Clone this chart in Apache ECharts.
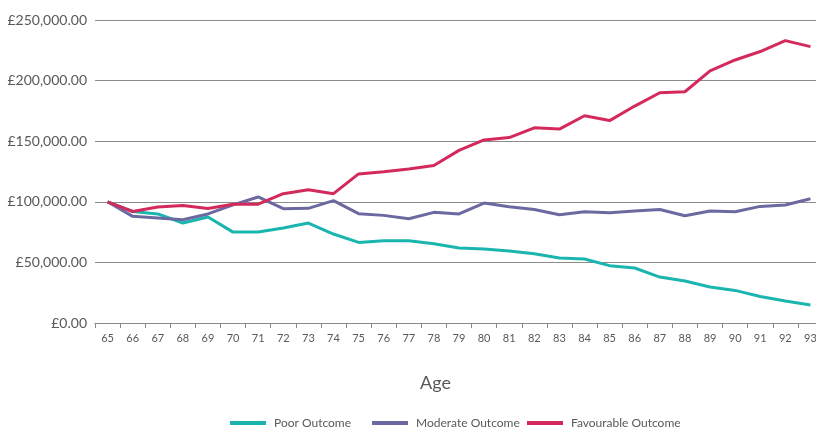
<!DOCTYPE html>
<html><head><meta charset="utf-8">
<script src="https://cdn.jsdelivr.net/npm/echarts@6/dist/echarts.min.js"></script>
<style>html,body{margin:0;padding:0;background:#fff;overflow:hidden}#c{width:823px;height:430px}</style>
</head><body><div id="c"></div>
<script>
var ages = ['65','66','67','68','69','70','71','72','73','74','75','76','77','78','79','80','81','82','83','84','85','86','87','88','89','90','91','92','93'];
var poor = [100000,92000,90000,82500,87500,75000,75000,78400,82500,73400,66500,67900,67900,65400,61900,61000,59400,57200,53600,52800,47300,45400,37900,34600,29700,26900,21900,18100,14800];
var moderate = [100000,88000,86600,85200,90000,97500,104000,94300,94600,101000,90200,88800,86000,91300,90000,99000,96000,93700,89300,91800,91000,92400,93700,88500,92400,91800,96200,97300,102500];
var favourable = [100000,92000,95700,97000,94500,98000,98000,106700,110000,106700,123000,124800,127000,130000,142400,151000,153000,161000,160000,171000,167000,179000,190000,190800,208000,217000,224000,233000,228000];
var seriesNames = ['Poor Outcome','Moderate Outcome','Favourable Outcome'];
var yTicks = [0, 50000, 100000, 150000, 200000, 250000];

var chart = echarts.init(document.getElementById('c'), null, {renderer:'canvas'});
function fmt(v){ return '£' + v.toLocaleString('en-GB',{minimumFractionDigits:2, maximumFractionDigits:2}); }
var legendLefts = [225, 367, 522];
var legends = seriesNames.map(function(n, i){
  return {
    top:412, left:legendLefts[i], itemWidth:36, itemHeight:4,
    textStyle:{fontFamily:'Lato', fontSize:12, color:'#595959', padding:[0,0,0,3]},
    icon:'rect', data:[n]
  };
});
chart.setOption({
  animation:false,
  textStyle:{fontFamily:'Lato'},
  grid:{left:95, top:20, right:0, height:303, containLabel:false},
  graphic:[{type:'text', left:420, top:374, style:{text:'Age', font:'18px Lato', fill:'#595959'}}],
  legend:legends,
  xAxis:{
    type:'category', data:ages, boundaryGap:true,
    axisLine:{lineStyle:{color:'#888', width:1}},
    axisTick:{show:true, length:5, lineStyle:{color:'#888'}},
    axisLabel:{fontSize:11, color:'#595959', margin:10, interval:0, fontFamily:'Lato'}
  },
  yAxis:{
    type:'value', min:yTicks[0], max:yTicks[yTicks.length-1], interval:50000,
    axisLine:{show:false}, axisTick:{show:false},
    axisLabel:{formatter:fmt, fontSize:14, color:'#595959', margin:8, fontFamily:'Lato'},
    splitLine:{lineStyle:{color:'#8c8c8c', width:1}}
  },
  series:[
    {name:seriesNames[0], type:'line', data:poor, symbol:'none', lineStyle:{width:3, color:'#19b5ae'}, itemStyle:{color:'#19b5ae'}},
    {name:seriesNames[1], type:'line', data:moderate, symbol:'none', lineStyle:{width:3, color:'#6b69a0'}, itemStyle:{color:'#6b69a0'}},
    {name:seriesNames[2], type:'line', data:favourable, symbol:'none', lineStyle:{width:3, color:'#d42a5b'}, itemStyle:{color:'#d42a5b'}}
  ]
});
</script></body></html>
